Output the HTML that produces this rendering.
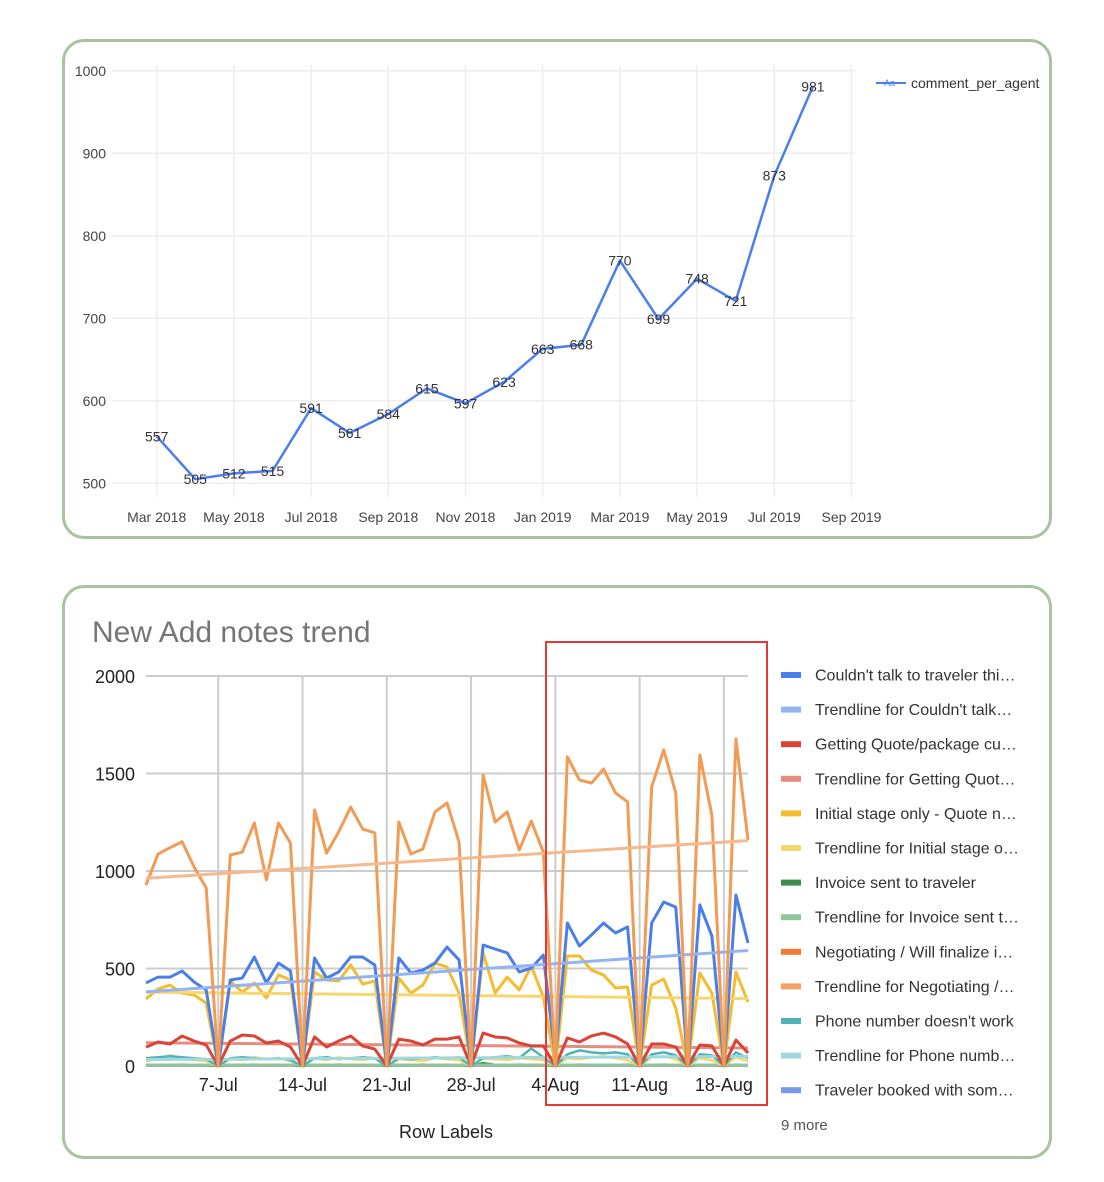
<!DOCTYPE html>
<html><head><meta charset="utf-8"><style>
body{margin:0;background:#fff;width:1104px;height:1182px;overflow:hidden;font-family:"Liberation Sans",sans-serif}
.card{position:absolute;left:62px;width:990px;border:3px solid #a9c29f;border-radius:22px;box-sizing:border-box}
</style></head><body>
<div class="card" style="top:39px;height:500px"></div>
<div class="card" style="top:585px;height:574px"></div>
<svg id="svg" width="1104" height="1182" style="position:absolute;left:0;top:0"></svg>
<script>
// ---- Top chart data ----
const topMonths=["Mar 2018","Apr 2018","May 2018","Jun 2018","Jul 2018","Aug 2018","Sep 2018","Oct 2018","Nov 2018","Dec 2018","Jan 2019","Feb 2019","Mar 2019","Apr 2019","May 2019","Jun 2019","Jul 2019","Aug 2019"];
const topValues=[557,505,512,515,591,561,584,615,597,623,663,668,770,699,748,721,873,981];
const topYTicks=[500,600,700,800,900,1000];
const topXTicks=["Mar 2018","May 2018","Jul 2018","Sep 2018","Nov 2018","Jan 2019","Mar 2019","May 2019","Jul 2019","Sep 2019"];
// ---- Bottom chart data (days from 1-Jul) ----
const dayTickLabels=["7-Jul","14-Jul","21-Jul","28-Jul","4-Aug","11-Aug","18-Aug"];
const dayTickIdx=[6,13,20,27,34,41,48];
const bottomYTicks=[0,500,1000,1500,2000];
const negotiating=[928,1087,1120,1150,1020,913,0,1082,1097,1246,954,1246,1143,0,1313,1092,1200,1328,1215,1195,0,1251,1087,1113,1303,1349,1149,0,1492,1251,1303,1108,1256,1097,0,1585,1467,1451,1523,1400,1354,0,1431,1621,1400,0,1595,1287,0,1677,1159];
const couldntTalk=[426,456,456,487,431,390,0,441,451,559,426,528,487,0,554,451,482,559,559,518,0,554,477,492,528,610,544,0,620,600,580,482,502,569,40,733,615,672,733,682,713,0,733,841,815,0,826,667,0,877,631];
const initialStage=[344,395,415,374,364,323,0,436,379,426,349,467,441,0,482,441,436,518,420,436,0,451,374,415,528,508,374,0,580,374,456,390,513,354,0,564,564,492,467,400,405,0,415,446,297,0,477,374,0,482,328];
const gettingQuote=[97,123,113,154,128,108,0,128,159,154,118,128,97,0,149,97,128,154,103,87,0,138,128,108,138,138,149,0,169,149,144,118,103,103,0,144,123,154,169,149,113,0,113,113,97,0,108,103,0,133,67];
const phoneNumber=[40,45,50,45,40,35,0,40,45,40,35,40,30,0,40,45,35,40,45,40,0,40,35,40,45,40,45,0,40,45,50,40,90,45,0,60,80,70,65,70,60,0,60,70,55,0,60,55,0,70,40];
const smallYellow=[25,35,55,40,30,25,0,35,30,45,35,40,25,0,40,30,45,35,30,40,0,35,30,25,40,35,30,0,40,35,30,40,35,30,0,40,35,45,50,40,30,0,45,50,35,0,40,30,0,45,25];
const invoiceSent=[5,6,5,7,5,4,0,6,5,7,5,6,5,0,6,5,7,6,5,6,0,5,6,7,5,6,5,0,15,6,5,7,6,5,0,6,7,6,5,6,7,0,6,7,6,0,5,6,0,7,5];
const legendNames=["Couldn't talk to traveler thi…","Trendline for Couldn't talk…","Getting Quote/package cu…","Trendline for Getting Quot…","Initial stage only - Quote n…","Trendline for Initial stage o…","Invoice sent to traveler","Trendline for Invoice sent t…","Negotiating / Will finalize i…","Trendline for Negotiating /…","Phone number doesn't work","Trendline for Phone numb…","Traveler booked with som…"];
const legendColors=["#4a7fe9","#93b3f4","#da4437","#e78c80","#f4bd30","#f8d66e","#3f8c4f","#90c69c","#f17b34","#f3a064","#4db4b8","#a0d9dd","#7499ea"];

const svg=document.getElementById('svg');
const NS='http://www.w3.org/2000/svg';
function mk(tag,attrs,txt){const e=document.createElementNS(NS,tag);for(const k in attrs)e.setAttribute(k,attrs[k]);if(txt!==undefined)e.textContent=txt;svg.appendChild(e);return e;}

// ---- Top chart ----
const tx=i=>156.7+i*38.6;
const ty=v=>483.3-(v-500)*0.825;
topYTicks.forEach(v=>{
  const l=mk('line',{x1:112,x2:855,y1:ty(v),y2:ty(v),stroke:'#eeeeee','stroke-width':1.5});
  
  const t=mk('text',{x:106,y:ty(v)+5,'text-anchor':'end','font-size':14,fill:'#444'},v);
  
});
topXTicks.forEach((lab,k)=>{
  const x=tx(k*2);
  const l=mk('line',{x1:x,x2:x,y1:65,y2:497,stroke:'#eeeeee','stroke-width':1.5});
  
  const t=mk('text',{x:x,y:522,'text-anchor':'middle','font-size':14,fill:'#444'},lab);
  
});
const tp=mk('polyline',{points:topValues.map((v,i)=>tx(i)+','+ty(v)).join(' '),fill:'none',stroke:'#4a7ef0','stroke-width':2.5,'stroke-linejoin':'round'});

topValues.forEach((v,i)=>{
  const t=mk('text',{x:tx(i),y:ty(v)+5,'text-anchor':'middle','font-size':14,fill:'#333'},v);
  
});
const ll=mk('line',{x1:876,x2:906,y1:83,y2:83,stroke:'#4a7ef0','stroke-width':2});

const la=mk('text',{x:884,y:86,'font-size':9,fill:'#4a7ef0'},'Aa');

const lt=mk('text',{x:911,y:88,'font-size':14,fill:'#333'},'comment_per_agent');


// ---- Bottom chart ----
const bx=d=>146+d*12.04;
const by=v=>1066-v*0.195;
const tt=mk('text',{x:92,y:642,'font-size':30,fill:'#757575'},'New Add notes trend');

bottomYTicks.forEach(v=>{
  const l=mk('line',{x1:146,x2:748,y1:by(v),y2:by(v),stroke:v===0?'#555':'#cccccc','stroke-width':v===0?1.5:2});
  
  const t=mk('text',{x:135,y:by(v)+7,'text-anchor':'end','font-size':18,fill:'#222'},v);
  
});
dayTickIdx.forEach((d,k)=>{
  const l=mk('line',{x1:bx(d),x2:bx(d),y1:676,y2:1066,stroke:'#cccccc','stroke-width':2});
  
  const t=mk('text',{x:bx(d),y:1091,'text-anchor':'middle','font-size':18,fill:'#222'},dayTickLabels[k]);
  
});
function trend(arr){const n=arr.length;let sx=0,sy=0,sxy=0,sxx=0;arr.forEach((v,i)=>{sx+=i;sy+=v;sxy+=i*v;sxx+=i*i;});const b=(n*sxy-sx*sy)/(n*sxx-sx*sx);const a=(sy-b*sx)/n;return [a,a+b*(n-1)];}
function series(arr,color,name,w){
  const p=mk('polyline',{points:arr.map((v,i)=>bx(i)+','+by(v)).join(' '),fill:'none',stroke:color,'stroke-width':w||3,'stroke-linejoin':'round'});
  
  return p;
}
function trendLine(arr,color,name){
  const [a,b]=trend(arr);
  const l=mk('line',{x1:bx(0),x2:bx(arr.length-1),y1:by(a),y2:by(b),stroke:color,'stroke-width':3});
  
}
series(invoiceSent,'#3f8c4f','invoice-sent-line',2.5);
trendLine(invoiceSent,'#90c69c','invoice-sent-trendline');
series(smallYellow,'#f8d66e','small-yellow-line',2.5);
series(phoneNumber,'#4db4b8','phone-number-line',2.5);
trendLine(phoneNumber,'#a0d9dd','phone-number-trendline');
trendLine(gettingQuote,'#e78c80','getting-quote-trendline');
series(gettingQuote,'#da4437','getting-quote-line');
series(initialStage,'#f4bd30','initial-stage-line');
trendLine(initialStage,'#f8d66e','initial-stage-trendline');
series(couldntTalk,'#4a7fe9','couldnt-talk-line');
trendLine(couldntTalk,'#93b3f4','couldnt-talk-trendline');
series(negotiating,'#f29b55','negotiating-line');
trendLine(negotiating,'#f5b98d','negotiating-trendline');

const rl=mk('text',{x:446,y:1138,'text-anchor':'middle','font-size':18,fill:'#222'},'Row Labels');

legendNames.forEach((n,i)=>{
  const y=675+i*34.6;
  const r=mk('rect',{x:781,y:y-3,width:20,height:6,fill:legendColors[i]});
  
  const t=mk('text',{x:815,y:y+5.5,'font-size':16,fill:'#333'},n);
  
});
const more=mk('text',{x:781,y:1130,'font-size':15,fill:'#555'},'9 more');

const hl=mk('rect',{x:546,y:642,width:221,height:463,fill:'none',stroke:'#e53935','stroke-width':2});

</script>
</body></html>
